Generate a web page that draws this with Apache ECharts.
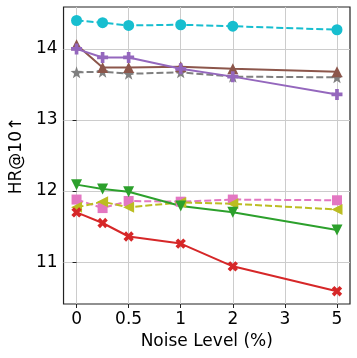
<!DOCTYPE html>
<html>
<head>
<meta charset="utf-8">
<script src="https://cdn.jsdelivr.net/npm/echarts@6/dist/echarts.min.js"></script>
<style>
  html, body { margin: 0; padding: 0; background: #fff; }
  #chart { width: 357px; height: 358px; }
</style>
</head>
<body>
<div id="chart"></div>
<script>
// noise levels (%) where each method was evaluated
const noiseLevels = [0, 0.25, 0.5, 1, 2, 5];
// tick labels of the x axis (evenly spaced on the chart)
const xTickLabels = [0, 0.5, 1, 2, 3, 5];
const yTicks = [11, 12, 13, 14];

const cyanData   = [14.40, 14.37, 14.33, 14.34, 14.32, 14.27];
const brownData  = [14.06, 13.74, 13.74, 13.75, 13.72, 13.68];
const purpleData = [14.00, 13.88, 13.88, 13.72, 13.61, 13.36];
const grayData   = [13.67, 13.68, 13.65, 13.67, 13.61, 13.60];
const greenData  = [12.09, 12.03, 11.99, 11.79, 11.70, 11.45];
const pinkData   = [11.88, 11.76, 11.86, 11.85, 11.88, 11.87];
const oliveData  = [11.77, 11.85, 11.77, 11.84, 11.82, 11.74];
const redData    = [11.70, 11.55, 11.36, 11.26, 10.94, 10.59];

// the x axis is evenly spaced on tick labels, so map a level to its tick index
function levelToPos(v) {
  for (let i = 0; i < xTickLabels.length - 1; i++) {
    const a = xTickLabels[i], b = xTickLabels[i + 1];
    if (v >= a && v <= b) return i + (v - a) / (b - a);
  }
  return xTickLabels.length - 1;
}

const plusPath = 'path://M-1,-3H1V-1H3V1H1V3H-1V1H-3V-1H-1Z';
const starPath = 'path://M0,-10L2.35,-3.24L9.51,-3.09L3.8,1.24L5.88,8.09L0,4L-5.88,8.09L-3.8,1.24L-9.51,-3.09L-2.35,-3.24Z';

function mkSeries(values, color, symbol, dashed, opts) {
  return Object.assign({
    type: 'line',
    data: values.map((v, i) => [levelToPos(noiseLevels[i]), v]),
    symbol: symbol,
    symbolSize: 11,
    showSymbol: true,
    clip: false,
    lineStyle: { color: color, width: 2, type: dashed ? [7, 3] : 'solid' },
    itemStyle: { color: color, borderWidth: 0 },
    emphasis: { disabled: true }
  }, opts || {});
}

const font = 'DejaVu Sans';
const chart = echarts.init(document.getElementById('chart'));
chart.setOption({
  animation: false,
  grid: {
    left: 58, right: 7, top: 7, bottom: 54,
    show: true, borderColor: '#222', borderWidth: 1.2, backgroundColor: 'transparent'
  },
  xAxis: {
    type: 'value',
    min: -0.25, max: 5.25,
    name: 'Noise Level (%)',
    nameLocation: 'middle',
    nameGap: 28,
    nameTextStyle: { fontFamily: font, fontSize: 17, color: '#000' },
    axisLine: { show: false },
    axisTick: { show: true, inside: false, length: 4, customValues: [0, 1, 2, 3, 4, 5], lineStyle: { color: '#222' } },
    axisLabel: {
      customValues: [0, 1, 2, 3, 4, 5],
      formatter: v => String(xTickLabels[Math.round(v)]),
      fontFamily: font, fontSize: 17, color: '#000', margin: 7
    },
    splitLine: { show: true, lineStyle: { color: '#cccccc', width: 1 } }
  },
  yAxis: {
    type: 'value',
    min: 10.41, max: 14.59,
    name: 'HR@10↑',
    nameLocation: 'middle',
    nameRotate: 90,
    nameGap: 34,
    nameTextStyle: { fontFamily: font, fontSize: 17, color: '#000' },
    axisLine: { show: false },
    axisTick: { show: true, inside: false, length: 4, customValues: yTicks, lineStyle: { color: '#222' } },
    axisLabel: {
      customValues: yTicks,
      fontFamily: font, fontSize: 17, color: '#000', margin: 6
    },
    splitLine: { show: true, lineStyle: { color: '#cccccc', width: 1 } }
  },
  series: [
    mkSeries(grayData, '#7f7f7f', starPath, true, { symbolSize: 12 }),
    mkSeries(pinkData, '#e377c2', 'rect', true, { symbolSize: 10 }),
    mkSeries(oliveData, '#bcbd22', 'triangle', true, { symbolRotate: 90 }),
    mkSeries(cyanData, '#17becf', 'circle', true),
    mkSeries(greenData, '#2ca02c', 'triangle', false, { symbolRotate: 180 }),
    mkSeries(redData, '#d62728', plusPath, false, { symbolRotate: 45, symbolSize: 11 }),
    mkSeries(brownData, '#8c564b', 'triangle', false),
    mkSeries(purpleData, '#9467bd', plusPath, false)
  ]
});
window.onresize = function () {
  chart.resize();
};
</script>
</body>
</html>
